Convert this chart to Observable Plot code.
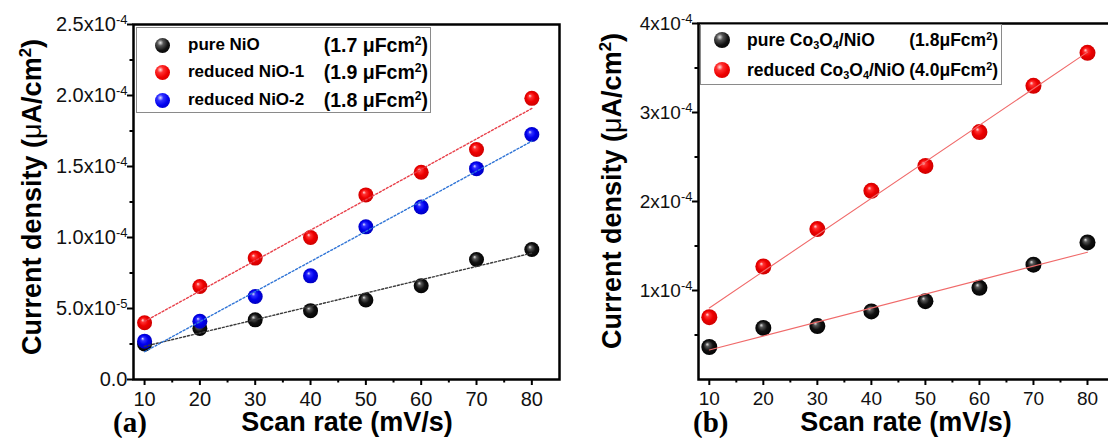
<!DOCTYPE html>
<html><head><meta charset="utf-8">
<script src="https://cdn.jsdelivr.net/npm/d3@7"></script>
<script src="https://cdn.jsdelivr.net/npm/@observablehq/plot@0.6"></script>
<style>
html,body{margin:0;padding:0;background:#fff;overflow:hidden;}
#root{position:relative;width:1108px;height:438px;overflow:hidden;font-family:"Liberation Sans",Arial,sans-serif;color:#000;}
.panel{position:absolute;top:0;}
#root svg.pa text{font-size:20px !important;fill:#111;}
#root svg.pb text{font-size:19px !important;fill:#111;}
.ytitle{position:absolute;font-weight:bold;font-size:27px;line-height:1;white-space:nowrap;transform:translate(-50%,-50%) rotate(-90deg);}
.xtitle{position:absolute;font-weight:bold;font-size:27px;line-height:20px;height:20px;white-space:nowrap;transform:translateX(-50%);}
.tag{position:absolute;font-family:"Liberation Serif","Times New Roman",serif;font-weight:bold;font-size:29px;line-height:22px;height:22px;}
.legend{position:absolute;border:1.5px solid #8a8a8a;background:#fff;box-sizing:border-box;font-weight:bold;}
.row{position:absolute;display:flex;justify-content:space-between;align-items:center;line-height:20px;height:20px;white-space:nowrap;}
.ball{position:absolute;border-radius:50%;}
sup{font-size:0.62em;vertical-align:0.55em;line-height:0;}
sub{font-size:0.62em;vertical-align:-0.3em;line-height:0;}
</style>
</head><body><div id="root"></div>
<script>
// ---------------- data ----------------
const scanRates = [10, 20, 30, 40, 50, 60, 70, 80];

// panel (a)
const seriesA = ["pure NiO", "reduced NiO-1", "reduced NiO-2"];
const capA = ["(1.7 μFcm<sup>2</sup>)", "(1.9 μFcm<sup>2</sup>)", "(1.8 μFcm<sup>2</sup>)"];
const pureNiO     = [2.5e-5, 3.6e-5, 4.2e-5, 4.85e-5, 5.6e-5, 6.6e-5, 8.45e-5, 9.15e-5];
const reducedNiO1 = [4.0e-5, 6.55e-5, 8.55e-5, 1.0e-4, 1.3e-4, 1.46e-4, 1.62e-4, 1.98e-4];
const reducedNiO2 = [2.7e-5, 4.1e-5, 5.85e-5, 7.3e-5, 1.075e-4, 1.215e-4, 1.485e-4, 1.725e-4];
const yTicksA = [0, 5e-5, 1e-4, 1.5e-4, 2e-4, 2.5e-4];
const yTickLabelsA = ["0.0", "5.0x10^-5", "1.0x10^-4", "1.5x10^-4", "2.0x10^-4", "2.5x10^-4"];
const yMinorA = [2.5e-5, 7.5e-5, 1.25e-4, 1.75e-4, 2.25e-4];

// panel (b)
const seriesB = ["pure Co<sub>3</sub>O<sub>4</sub>/NiO", "reduced Co<sub>3</sub>O<sub>4</sub>/NiO"];
const capB = ["(1.8μFcm<sup>2</sup>)", "(4.0μFcm<sup>2</sup>)"];
const pureCo    = [3.65e-5, 5.8e-5, 6.0e-5, 7.65e-5, 8.8e-5, 1.03e-4, 1.29e-4, 1.54e-4];
const reducedCo = [7.0e-5, 1.27e-4, 1.69e-4, 2.12e-4, 2.4e-4, 2.78e-4, 3.3e-4, 3.67e-4];
const yTicksB = [1e-4, 2e-4, 3e-4, 4e-4];
const yTickLabelsB = ["1x10^-4", "2x10^-4", "3x10^-4", "4x10^-4"];
const yMinorB = [0.5e-4, 1.5e-4, 2.5e-4, 3.5e-4];

const xTicks = [10, 20, 30, 40, 50, 60, 70, 80];
const xMinor = [15, 25, 35, 45, 55, 65, 75];

// ---------------- styling ----------------
const sphere = {
  black: ["#e8e8e8", "#555", "#111", "#000"],
  red:   ["#ffe0e0", "#ff3030", "#ee0000", "#c80000"],
  blue:  ["#e0e0ff", "#3030ff", "#0000ee", "#0000b8"]
};
function cssBall(c){const s=sphere[c];return `radial-gradient(circle at 36% 32%, ${s[0]} 0%, ${s[1]} 22%, ${s[2]} 55%, ${s[3]} 100%)`;}

function addDefs(svg, prefix){
  const defs = d3.select(svg).insert("defs", ":first-child");
  for (const c of Object.keys(sphere)) {
    const s = sphere[c];
    const g = defs.append("radialGradient").attr("id", prefix + c)
      .attr("cx", "0.5").attr("cy", "0.5").attr("r", "0.55").attr("fx", "0.36").attr("fy", "0.32");
    g.append("stop").attr("offset", "0").attr("stop-color", s[0]);
    g.append("stop").attr("offset", "0.22").attr("stop-color", s[1]);
    g.append("stop").attr("offset", "0.55").attr("stop-color", s[2]);
    g.append("stop").attr("offset", "1").attr("stop-color", s[3]);
  }
}
function superscripts(svg){
  d3.select(svg).selectAll("text").each(function(){
    const t = this.textContent;
    if (!t.includes("^")) return;
    const [base, exp] = t.split("^");
    const sel = d3.select(this); sel.text(null);
    sel.append("tspan").text(base);
    sel.append("tspan").attr("dy", "-0.5em").style("font-size", "13px", "important").text(exp);
  });
}
function rows(values, name){ return scanRates.map((x, i) => ({x, y: values[i], s: name})); }

function panel(o){
  const marks = [
    Plot.axisX({ticks: xTicks, tickSize: 6, tickPadding: 6, strokeWidth: 2, tickFormat: d => String(d), label: null}),
    Plot.axisX({ticks: xMinor, tickSize: 3.5, strokeWidth: 2, tickFormat: () => "", label: null}),
    Plot.axisY({ticks: o.yTicks, tickSize: 6, tickPadding: 0, strokeWidth: 2, tickFormat: d => o.yLabels[o.yTicks.indexOf(d)], label: null}),
    Plot.axisY({ticks: o.yMinor, tickSize: 3.5, strokeWidth: 2, tickFormat: () => "", label: null}),
  ];
  o.series.forEach((s) => {
    marks.push(Plot.dot(s.data, {x: "x", y: "y", r: o.r, fill: `url(#${o.prefix}${s.ball})`, stroke: "none"}));
  });
  o.series.forEach((s) => {
    marks.push(Plot.linearRegressionY(s.data, {x: "x", y: "y", ci: 0, stroke: s.line, strokeWidth: o.lineWidth, strokeDasharray: o.dash}));
  });
  marks.push(Plot.frame({stroke: "#000", strokeWidth: 2.5}));
  const svg = Plot.plot({
    width: o.width, height: 438,
    marginLeft: o.ml, marginRight: o.mr, marginTop: o.mt, marginBottom: o.mb,
    x: {domain: [8, 85]},
    y: {domain: o.yDomain},
    style: {fontFamily: "'Liberation Sans', Arial, sans-serif", fontSize: "19px", color: "#000", background: "transparent", overflow: "visible"},
    marks
  });
  addDefs(svg, o.prefix);
  superscripts(svg);
  svg.classList.add("panel", o.cls);
  svg.style.left = o.left + "px";
  return svg;
}

const root = document.getElementById("root");

root.appendChild(panel({
  prefix: "ga-", cls: "pa", left: 0, width: 570, ml: 133, mr: 11, mt: 24, mb: 59,
  yDomain: [0, 2.5e-4], yTicks: yTicksA, yLabels: yTickLabelsA, yMinor: yMinorA, r: 7.5,
  lineWidth: 1.4, dash: "2,2",
  series: [
    {data: rows(pureNiO, seriesA[0]), ball: "black", line: "#3a3a3a"},
    {data: rows(reducedNiO1, seriesA[1]), ball: "red", line: "#e8404a"},
    {data: rows(reducedNiO2, seriesA[2]), ball: "blue", line: "#2f74d6"}
  ]
}));

root.appendChild(panel({
  prefix: "gb-", cls: "pb", left: 560, width: 560, ml: 138, mr: 6, mt: 23, mb: 59,
  yDomain: [0, 4e-4], yTicks: yTicksB, yLabels: yTickLabelsB, yMinor: yMinorB, r: 8,
  lineWidth: 1.1, dash: null,
  series: [
    {data: rows(pureCo, "pure"), ball: "black", line: "#f06a6a"},
    {data: rows(reducedCo, "reduced"), ball: "red", line: "#f06a6a"}
  ]
}));

// ---------------- text overlays ----------------
function div(cls, html, style){
  const d = document.createElement("div"); d.className = cls; d.innerHTML = html;
  Object.assign(d.style, style); root.appendChild(d); return d;
}
const yTitle = "Current density (<span style='font-weight:normal'>μ</span>A/cm<sup>2</sup>)";
div("ytitle", yTitle, {left: "32px", top: "197px"});
div("ytitle", yTitle, {left: "612px", top: "191px"});
div("xtitle", "Scan rate (mV/s)", {left: "347px", top: "412px"});
div("xtitle", "Scan rate (mV/s)", {left: "906px", top: "412px"});
div("tag", "(a)", {left: "113px", top: "411px"});
div("tag", "(b)", {left: "693px", top: "411px"});

function legend(box, names, caps, balls, rowsY, ballX, r, textX, textW, nameSize, capSize){
  const lg = div("legend", "", {left: box[0] + "px", top: box[1] + "px", width: box[2] + "px", height: box[3] + "px"});
  names.forEach((n, i) => {
    const b = document.createElement("div"); b.className = "ball";
    Object.assign(b.style, {left: (ballX - r) + "px", top: (rowsY[i] - r) + "px", width: 2*r + "px", height: 2*r + "px", background: cssBall(balls[i])});
    lg.appendChild(b);
    const row = document.createElement("div"); row.className = "row";
    Object.assign(row.style, {left: textX + "px", top: (rowsY[i] - 10) + "px", width: textW + "px"});
    row.innerHTML = `<span style="font-size:${nameSize}px">${n}</span><span style="font-size:${capSize}px">${caps[i]}</span>`;
    lg.appendChild(row);
  });
}
legend([136, 27, 295, 86], seriesA, capA, ["black", "red", "blue"], [17, 44, 72], 25, 7.5, 51, 240, 17, 19.5);
legend([700, 24, 302, 61], seriesB, capB, ["black", "red"], [15, 45], 21, 8, 46, 251, 17.5, 17.5);
</script>
</body></html>
